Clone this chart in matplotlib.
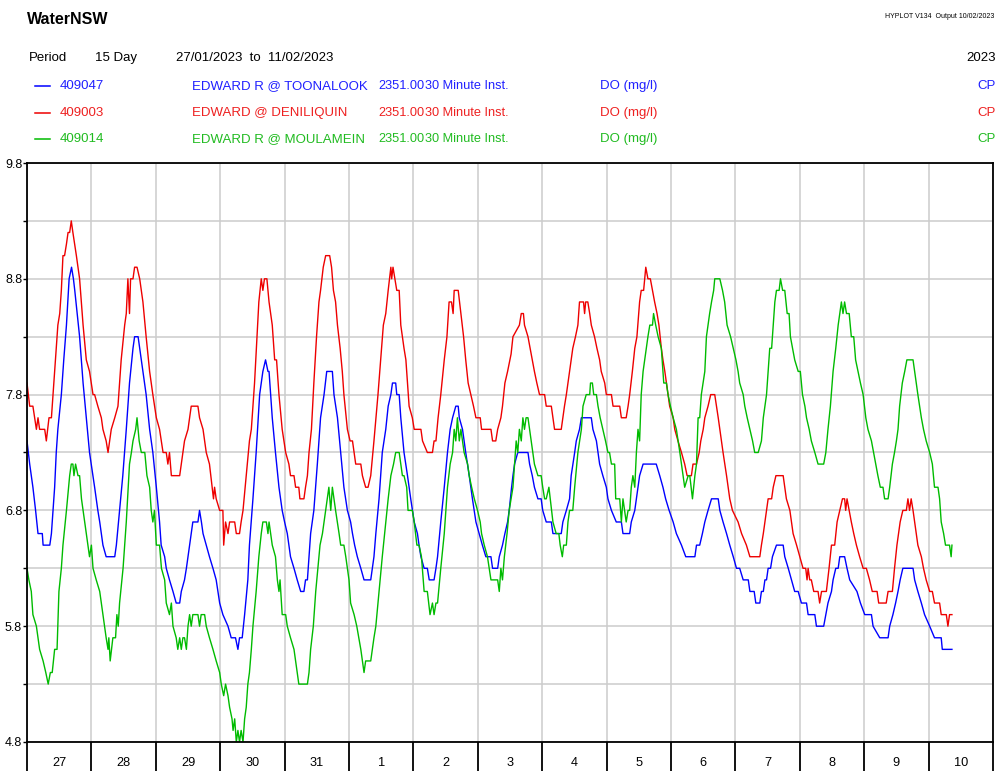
import matplotlib
matplotlib.use('Agg')
import matplotlib.pyplot as plt
from matplotlib.lines import Line2D
import numpy as np

plt.rcParams['font.family'] = ['Liberation Sans', 'DejaVu Sans']

# day labels along the bottom, 27/01/2023 to 11/02/2023
day_labels = ['27', '28', '29', '30', '31', '1', '2', '3', '4', '5', '6', '7', '8', '9', '10']

# (hours since 27/01/2023 00:00, DO mg/l)
toonalook = [
    (0, 7.4), (1.0, 7.2), (2.2, 7.0), (3.2, 6.8), (4.1, 6.6), (5.7, 6.6), (6.0, 6.5), (8.5, 6.5), (9.1, 6.6),
    (9.7, 6.8), (10.3, 7.0), (10.9, 7.3), (11.5, 7.5), (12.8, 7.8), (13.7, 8.1), (14.7, 8.4), (15.7, 8.8),
    (16.6, 8.9), (17.3, 8.8), (17.8, 8.7), (18.7, 8.5), (19.6, 8.3), (20.9, 7.9), (22.1, 7.6), (23.3, 7.3),
    (25.2, 7.0), (26.4, 6.8), (27.1, 6.7), (28.3, 6.5), (29.5, 6.4), (32.7, 6.4), (33.3, 6.5), (34.5, 6.8),
    (35.7, 7.1), (37.0, 7.5), (38.2, 7.9), (39.5, 8.2), (40.1, 8.3), (41.4, 8.3), (42.0, 8.2), (43.2, 8.0),
    (44.4, 7.8), (45.7, 7.5), (46.9, 7.3), (48.2, 7.0), (49.4, 6.7), (50.0, 6.5), (51.3, 6.4), (51.9, 6.3),
    (53.1, 6.2), (54.4, 6.1), (55.6, 6.0), (56.9, 6.0), (57.5, 6.1), (58.7, 6.2), (59.4, 6.3), (60.6, 6.5),
    (61.8, 6.7), (63.7, 6.7), (64.3, 6.8), (65.0, 6.7), (65.6, 6.6), (66.8, 6.5), (68.0, 6.4), (69.3, 6.3),
    (70.5, 6.2), (71.8, 6.0), (73.0, 5.9), (74.9, 5.8), (76.1, 5.7), (77.7, 5.7), (78.6, 5.6), (79.2, 5.7),
    (80.2, 5.7), (81.1, 5.9), (82.3, 6.2), (82.9, 6.5), (84.2, 6.9), (85.4, 7.3), (86.7, 7.8), (87.9, 8.0),
    (88.9, 8.1), (89.8, 8.0), (90.2, 8.0), (90.8, 7.8), (91.4, 7.6), (92.6, 7.3), (93.9, 7.0), (95.1, 6.8),
    (96.0, 6.7), (97.0, 6.6), (97.6, 6.5), (98.2, 6.4), (99.5, 6.3), (100.7, 6.2), (102.0, 6.1), (103.2, 6.1),
    (103.8, 6.2), (104.5, 6.2), (105.1, 6.4), (105.7, 6.6), (106.9, 6.8), (108.2, 7.2), (109.4, 7.6),
    (110.7, 7.8), (111.7, 8.0), (113.8, 8.0), (114.4, 7.8), (115.7, 7.6), (116.9, 7.3), (118.1, 7.0),
    (119.4, 6.8), (120.6, 6.7), (121.3, 6.6), (122.1, 6.5), (123.1, 6.4), (124.4, 6.3), (125.6, 6.2),
    (128.1, 6.2), (128.7, 6.3), (129.3, 6.4), (130.0, 6.6), (131.2, 6.9), (132.4, 7.3), (133.7, 7.5),
    (134.6, 7.7), (135.6, 7.8), (136.2, 7.9), (137.4, 7.9), (137.8, 7.8), (138.7, 7.8), (139.3, 7.6),
    (140.5, 7.3), (141.8, 7.1), (143.0, 6.9), (144.3, 6.7), (145.5, 6.6), (146.1, 6.5), (146.8, 6.4),
    (148.0, 6.3), (149.2, 6.3), (149.9, 6.2), (151.7, 6.2), (152.4, 6.3), (153.0, 6.4), (154.2, 6.7),
    (155.5, 7.0), (156.7, 7.3), (157.7, 7.5), (158.6, 7.6), (159.8, 7.7), (160.7, 7.7), (161.1, 7.6),
    (162.3, 7.5), (163.5, 7.3), (164.8, 7.1), (166.0, 6.9), (167.3, 6.7), (168.5, 6.6), (169.7, 6.5),
    (171.0, 6.4), (172.9, 6.4), (173.5, 6.3), (175.4, 6.3), (176.0, 6.4), (177.2, 6.5), (178.1, 6.6),
    (179.1, 6.7), (179.7, 6.8), (180.6, 7.0), (181.1, 7.1), (181.7, 7.2), (182.9, 7.3), (186.7, 7.3),
    (187.3, 7.2), (188.3, 7.1), (189.1, 7.0), (190.4, 6.9), (191.6, 6.9), (192.2, 6.8), (193.5, 6.7),
    (195.4, 6.7), (196.0, 6.6), (199.1, 6.6), (199.7, 6.7), (201.0, 6.8), (202.2, 6.9), (202.8, 7.1),
    (204.1, 7.3), (204.7, 7.4), (205.9, 7.5), (206.6, 7.6), (210.3, 7.6), (210.9, 7.5), (212.2, 7.4),
    (212.8, 7.3), (213.4, 7.2), (214.6, 7.1), (215.9, 7.0), (216.5, 6.9), (217.8, 6.8), (219.6, 6.7),
    (221.5, 6.7), (222.1, 6.6), (224.6, 6.6), (225.2, 6.7), (226.5, 6.8), (227.1, 6.9), (227.7, 7.0),
    (228.3, 7.1), (229.6, 7.2), (234.5, 7.2), (235.8, 7.1), (237.0, 7.0), (238.0, 6.9), (239.3, 6.8),
    (240.8, 6.7), (242.0, 6.6), (243.9, 6.5), (245.5, 6.4), (248.9, 6.4), (249.5, 6.5), (250.7, 6.5),
    (251.7, 6.6), (252.6, 6.7), (253.8, 6.8), (255.1, 6.9), (257.6, 6.9), (258.2, 6.8), (259.4, 6.7),
    (260.7, 6.6), (261.9, 6.5), (263.2, 6.4), (264.4, 6.3), (265.6, 6.3), (266.9, 6.2), (268.8, 6.2),
    (269.4, 6.1), (271.0, 6.1), (271.6, 6.0), (273.1, 6.0), (273.7, 6.1), (274.4, 6.1), (275.0, 6.2),
    (275.6, 6.2), (276.2, 6.3), (277.1, 6.3), (277.8, 6.4), (279.3, 6.5), (281.8, 6.5), (282.4, 6.4),
    (283.7, 6.3), (284.9, 6.2), (286.1, 6.1), (287.4, 6.1), (288.6, 6.0), (290.5, 6.0), (291.1, 5.9),
    (293.6, 5.9), (294.2, 5.8), (296.9, 5.8), (297.7, 5.9), (298.5, 6.0), (299.8, 6.1), (300.4, 6.2),
    (301.4, 6.3), (302.3, 6.3), (302.9, 6.4), (304.7, 6.4), (305.6, 6.3), (306.6, 6.2), (309.3, 6.1),
    (310.6, 6.0), (312.2, 5.9), (314.7, 5.9), (315.3, 5.8), (317.8, 5.7), (320.9, 5.7), (321.5, 5.8),
    (322.7, 5.9), (323.7, 6.0), (324.6, 6.1), (325.4, 6.2), (326.4, 6.3), (330.2, 6.3), (330.8, 6.2),
    (332.0, 6.1), (333.3, 6.0), (334.5, 5.9), (336.4, 5.8), (338.2, 5.7), (340.7, 5.7), (341.1, 5.6),
    (344.7, 5.6),
]

deniliquin = [
    (0, 7.9), (1.0, 7.7), (2.2, 7.7), (3.5, 7.5), (4.1, 7.6), (4.7, 7.5), (6.6, 7.5), (7.2, 7.4), (8.2, 7.6),
    (9.1, 7.6), (9.7, 7.8), (10.3, 8.0), (11.5, 8.4), (12.2, 8.5), (12.8, 8.7), (13.4, 9.0), (14.0, 9.0),
    (14.7, 9.1), (15.3, 9.2), (15.9, 9.2), (16.5, 9.3), (17.1, 9.2), (18.4, 9.0), (19.6, 8.8), (20.9, 8.4),
    (22.1, 8.1), (23.3, 8.0), (24.6, 7.8), (25.2, 7.8), (26.4, 7.7), (27.7, 7.6), (28.3, 7.5), (29.5, 7.4),
    (30.2, 7.3), (30.8, 7.4), (31.4, 7.5), (32.7, 7.6), (33.9, 7.7), (34.5, 7.9), (35.1, 8.1), (36.4, 8.4),
    (37.0, 8.5), (37.6, 8.8), (38.2, 8.5), (38.6, 8.8), (39.5, 8.8), (40.1, 8.9), (41.0, 8.9), (42.0, 8.8),
    (43.2, 8.6), (44.4, 8.3), (45.7, 8.0), (46.9, 7.8), (48.2, 7.6), (49.4, 7.5), (50.7, 7.3), (51.9, 7.3),
    (52.5, 7.2), (53.1, 7.3), (53.8, 7.1), (56.9, 7.1), (57.5, 7.2), (58.7, 7.4), (60.0, 7.5), (61.2, 7.7),
    (63.7, 7.7), (64.3, 7.6), (65.6, 7.5), (66.8, 7.3), (68.0, 7.2), (69.0, 7.0), (69.5, 6.9), (69.9, 7.0),
    (70.5, 6.9), (71.8, 6.8), (73.0, 6.8), (73.3, 6.5), (74.0, 6.7), (74.9, 6.6), (75.5, 6.7), (77.4, 6.7),
    (78.0, 6.6), (79.2, 6.6), (79.8, 6.7), (80.5, 6.8), (81.7, 7.1), (82.9, 7.4), (83.6, 7.5), (84.8, 7.9),
    (85.7, 8.3), (86.4, 8.6), (87.3, 8.8), (87.9, 8.7), (88.5, 8.8), (89.4, 8.8), (90.2, 8.6), (91.4, 8.4),
    (92.3, 8.1), (93.0, 8.1), (93.9, 7.8), (95.1, 7.5), (96.4, 7.3), (97.6, 7.2), (98.2, 7.1), (99.5, 7.1),
    (100.1, 7.0), (101.3, 7.0), (101.7, 6.9), (103.2, 6.9), (103.8, 7.0), (104.5, 7.1), (105.1, 7.3),
    (106.0, 7.5), (106.9, 7.9), (107.9, 8.3), (108.8, 8.6), (109.4, 8.7), (110.4, 8.9), (111.3, 9.0),
    (112.8, 9.0), (113.5, 8.9), (114.2, 8.7), (115.0, 8.6), (115.7, 8.4), (116.7, 8.2), (117.5, 8.0),
    (118.1, 7.8), (119.4, 7.5), (120.4, 7.4), (121.3, 7.4), (121.9, 7.3), (122.5, 7.2), (124.4, 7.2),
    (125.0, 7.1), (126.2, 7.0), (127.1, 7.0), (128.1, 7.1), (129.3, 7.4), (130.8, 7.8), (131.8, 8.1),
    (132.8, 8.4), (133.7, 8.5), (134.6, 8.7), (135.6, 8.9), (135.9, 8.8), (136.4, 8.9), (137.1, 8.8),
    (137.8, 8.7), (138.7, 8.7), (139.3, 8.4), (140.5, 8.2), (141.2, 8.1), (142.4, 7.7), (143.6, 7.6),
    (144.3, 7.5), (146.8, 7.5), (147.4, 7.4), (149.2, 7.3), (151.1, 7.3), (151.7, 7.4), (152.4, 7.4),
    (153.2, 7.6), (154.2, 7.8), (155.5, 8.1), (156.5, 8.3), (157.3, 8.6), (158.2, 8.6), (158.8, 8.5),
    (159.2, 8.7), (160.7, 8.7), (161.7, 8.5), (162.7, 8.3), (163.5, 8.1), (164.4, 7.9), (165.4, 7.8),
    (166.4, 7.7), (167.3, 7.6), (168.9, 7.6), (169.4, 7.5), (172.9, 7.5), (173.5, 7.4), (174.7, 7.4),
    (175.4, 7.5), (176.6, 7.6), (177.2, 7.7), (178.1, 7.9), (179.1, 8.0), (180.4, 8.15), (181.1, 8.3),
    (183.5, 8.4), (184.2, 8.5), (185.0, 8.5), (185.4, 8.4), (186.7, 8.3), (187.5, 8.2), (188.3, 8.1),
    (189.1, 8.0), (190.0, 7.9), (191.0, 7.8), (192.9, 7.8), (193.5, 7.7), (195.4, 7.7), (196.0, 7.6),
    (196.6, 7.5), (199.1, 7.5), (199.7, 7.6), (200.3, 7.7), (201.0, 7.8), (202.2, 8.0), (203.4, 8.2),
    (204.4, 8.3), (205.3, 8.4), (205.9, 8.6), (207.4, 8.6), (207.8, 8.5), (208.2, 8.6), (209.0, 8.6),
    (209.7, 8.5), (210.3, 8.4), (211.5, 8.3), (212.4, 8.2), (213.4, 8.1), (214.0, 8.0), (215.3, 7.9),
    (215.9, 7.8), (217.8, 7.8), (218.4, 7.7), (220.9, 7.7), (221.5, 7.6), (223.3, 7.6), (224.0, 7.7),
    (224.6, 7.8), (225.6, 8.0), (226.5, 8.2), (227.3, 8.3), (228.3, 8.6), (228.9, 8.7), (229.8, 8.7),
    (230.6, 8.9), (231.4, 8.8), (232.3, 8.8), (233.1, 8.7), (233.9, 8.6), (234.8, 8.5), (235.5, 8.4),
    (236.4, 8.2), (237.0, 8.1), (237.7, 8.0), (238.9, 7.8), (239.5, 7.7), (240.8, 7.6), (241.4, 7.5),
    (242.6, 7.4), (243.9, 7.3), (245.1, 7.2), (246.0, 7.1), (247.6, 7.1), (248.2, 7.2), (249.5, 7.2),
    (250.5, 7.3), (251.1, 7.4), (252.0, 7.5), (252.6, 7.6), (253.8, 7.7), (254.8, 7.8), (256.3, 7.8),
    (257.6, 7.6), (258.2, 7.5), (259.4, 7.3), (260.7, 7.1), (261.9, 6.9), (262.9, 6.8), (265.0, 6.7),
    (266.3, 6.6), (268.1, 6.5), (269.4, 6.4), (273.1, 6.4), (273.7, 6.5), (274.4, 6.6), (275.0, 6.7),
    (275.6, 6.8), (276.2, 6.9), (277.5, 6.9), (278.1, 7.0), (279.1, 7.1), (281.8, 7.1), (282.4, 7.0),
    (283.0, 6.9), (284.3, 6.8), (284.9, 6.7), (285.5, 6.6), (286.8, 6.5), (288.0, 6.4), (289.2, 6.3),
    (290.2, 6.3), (290.7, 6.2), (291.1, 6.3), (291.7, 6.2), (292.3, 6.2), (293.2, 6.1), (294.8, 6.1),
    (295.4, 6.0), (296.1, 6.1), (297.9, 6.1), (298.9, 6.3), (299.8, 6.5), (301.0, 6.5), (301.9, 6.7),
    (302.9, 6.8), (303.9, 6.9), (304.7, 6.9), (305.1, 6.8), (305.6, 6.9), (306.4, 6.8), (307.2, 6.7),
    (308.1, 6.6), (309.1, 6.5), (310.3, 6.4), (311.6, 6.3), (312.8, 6.3), (314.0, 6.2), (315.0, 6.1),
    (316.8, 6.1), (317.4, 6.0), (320.2, 6.0), (320.9, 6.1), (322.5, 6.1), (323.3, 6.3), (324.2, 6.5),
    (325.4, 6.7), (326.4, 6.8), (327.7, 6.8), (328.3, 6.9), (328.9, 6.8), (329.5, 6.9), (330.2, 6.8),
    (330.8, 6.7), (332.0, 6.5), (333.3, 6.4), (334.1, 6.3), (335.1, 6.2), (336.4, 6.1), (337.4, 6.1),
    (338.2, 6.0), (340.1, 6.0), (340.7, 5.9), (342.6, 5.9), (343.2, 5.8), (343.8, 5.9), (344.7, 5.9),
]

moulamein = [
    (0, 6.3), (0.7, 6.2), (1.6, 6.1), (2.2, 5.9), (3.5, 5.8), (4.7, 5.6), (6.0, 5.5), (7.0, 5.4), (7.9, 5.3),
    (8.7, 5.4), (9.4, 5.4), (10.3, 5.6), (11.2, 5.6), (11.9, 6.1), (12.8, 6.3), (13.4, 6.5), (14.7, 6.8),
    (15.9, 7.1), (16.5, 7.2), (17.1, 7.2), (17.5, 7.1), (18.1, 7.2), (19.0, 7.1), (19.6, 7.1), (20.3, 6.9),
    (21.5, 6.7), (22.1, 6.6), (23.3, 6.4), (24.0, 6.5), (24.6, 6.3), (25.8, 6.2), (27.1, 6.1), (28.3, 5.9),
    (29.5, 5.7), (30.2, 5.6), (30.5, 5.7), (31.0, 5.5), (32.0, 5.7), (33.0, 5.7), (33.5, 5.9), (34.0, 5.8),
    (34.5, 6.0), (35.8, 6.3), (37.0, 6.7), (38.2, 7.2), (38.9, 7.3), (39.5, 7.4), (40.5, 7.5), (41.0, 7.6),
    (41.8, 7.4), (42.6, 7.3), (43.9, 7.3), (44.7, 7.1), (45.7, 7.0), (46.3, 6.8), (46.9, 6.7), (47.5, 6.8),
    (48.2, 6.5), (49.4, 6.5), (50.1, 6.3), (51.3, 6.2), (51.9, 6.0), (53.1, 5.9), (53.8, 6.0), (54.4, 5.8),
    (55.6, 5.7), (56.2, 5.6), (56.9, 5.7), (57.5, 5.6), (58.1, 5.7), (58.7, 5.7), (59.4, 5.6), (60.0, 5.8),
    (60.6, 5.9), (61.2, 5.8), (61.8, 5.9), (63.7, 5.9), (64.3, 5.8), (64.9, 5.9), (66.2, 5.9), (66.8, 5.8),
    (68.0, 5.7), (69.3, 5.6), (70.5, 5.5), (71.8, 5.4), (72.4, 5.3), (73.3, 5.2), (74.0, 5.3), (74.9, 5.2),
    (75.5, 5.1), (76.4, 5.0), (76.8, 4.9), (77.4, 5.0), (78.0, 4.8), (78.6, 4.9), (79.2, 4.8), (79.8, 4.9),
    (80.5, 4.8), (81.1, 5.0), (81.7, 5.1), (82.3, 5.3), (82.9, 5.4), (83.6, 5.6), (84.2, 5.8), (85.4, 6.1),
    (86.4, 6.4), (87.3, 6.6), (87.9, 6.7), (89.2, 6.7), (89.8, 6.6), (90.2, 6.7), (90.8, 6.6), (91.4, 6.5),
    (92.6, 6.4), (93.3, 6.2), (93.9, 6.1), (94.3, 6.2), (95.1, 5.9), (96.4, 5.9), (97.0, 5.8), (98.2, 5.7),
    (99.5, 5.6), (100.1, 5.5), (100.7, 5.4), (101.3, 5.3), (104.5, 5.3), (105.1, 5.4), (105.7, 5.6),
    (106.7, 5.8), (107.6, 6.1), (108.4, 6.3), (109.2, 6.5), (110.1, 6.6), (110.7, 6.7), (111.3, 6.8),
    (111.9, 6.9), (112.5, 7.0), (113.2, 6.8), (113.8, 7.0), (114.4, 6.9), (115.0, 6.8), (116.3, 6.6),
    (116.9, 6.5), (118.1, 6.5), (118.8, 6.4), (120.0, 6.2), (120.6, 6.0), (121.9, 5.9), (122.9, 5.8),
    (124.4, 5.6), (125.6, 5.4), (126.2, 5.5), (128.1, 5.5), (128.7, 5.6), (129.3, 5.7), (130.0, 5.8),
    (131.2, 6.1), (132.4, 6.4), (133.7, 6.7), (134.6, 6.9), (135.6, 7.1), (136.6, 7.2), (137.4, 7.3),
    (138.7, 7.3), (139.3, 7.2), (139.9, 7.1), (140.5, 7.1), (141.5, 7.0), (142.0, 6.8), (143.6, 6.8),
    (144.3, 6.7), (145.3, 6.5), (146.1, 6.5), (147.0, 6.4), (148.0, 6.1), (149.2, 6.1), (150.2, 5.9),
    (151.1, 6.0), (151.7, 5.9), (152.4, 6.0), (153.0, 6.0), (154.2, 6.3), (155.5, 6.6), (156.7, 7.0),
    (157.7, 7.2), (158.6, 7.3), (159.2, 7.5), (159.8, 7.4), (160.4, 7.6), (161.1, 7.4), (161.7, 7.5),
    (162.3, 7.4), (162.9, 7.3), (164.2, 7.2), (164.8, 7.1), (165.7, 7.0), (166.7, 6.9), (167.9, 6.8),
    (168.9, 6.7), (169.4, 6.6), (170.4, 6.5), (171.6, 6.4), (172.9, 6.2), (175.4, 6.2), (176.0, 6.1),
    (176.6, 6.3), (177.2, 6.2), (177.9, 6.4), (178.9, 6.6), (179.7, 6.8), (180.4, 6.9), (181.1, 7.0),
    (181.7, 7.2), (182.3, 7.4), (182.9, 7.3), (183.5, 7.5), (184.2, 7.4), (184.8, 7.6), (185.4, 7.5),
    (186.0, 7.6), (186.7, 7.6), (187.3, 7.5), (187.9, 7.4), (188.5, 7.3), (189.1, 7.2), (190.4, 7.1),
    (191.6, 7.1), (192.2, 7.0), (192.9, 6.9), (193.5, 6.9), (194.5, 7.0), (195.0, 6.9), (196.0, 6.7),
    (197.2, 6.6), (198.2, 6.6), (198.7, 6.5), (199.5, 6.4), (200.0, 6.5), (201.0, 6.5), (201.6, 6.7),
    (202.2, 6.8), (203.4, 6.8), (204.1, 7.0), (205.3, 7.3), (206.6, 7.5), (207.2, 7.7), (208.4, 7.8),
    (209.7, 7.8), (210.0, 7.9), (210.7, 7.9), (211.2, 7.8), (212.2, 7.8), (212.8, 7.7), (213.6, 7.6),
    (214.6, 7.5), (215.6, 7.4), (216.5, 7.3), (217.1, 7.3), (217.8, 7.2), (219.0, 7.2), (219.4, 6.9),
    (220.9, 6.9), (221.5, 6.7), (222.1, 6.9), (222.7, 6.8), (223.3, 6.7), (224.0, 6.8), (224.6, 6.8),
    (225.2, 7.0), (225.8, 7.1), (226.5, 7.0), (227.1, 7.3), (227.7, 7.5), (228.3, 7.4), (228.9, 7.8),
    (229.6, 8.0), (230.8, 8.2), (231.4, 8.3), (232.1, 8.4), (233.1, 8.4), (233.5, 8.5), (234.3, 8.4),
    (235.2, 8.3), (236.4, 8.2), (237.3, 7.9), (238.3, 7.9), (238.9, 7.8), (239.8, 7.7), (240.8, 7.6),
    (242.0, 7.5), (243.3, 7.3), (243.9, 7.2), (245.1, 7.0), (246.4, 7.1), (247.0, 7.1), (248.0, 6.9),
    (248.9, 7.1), (249.5, 7.2), (250.1, 7.6), (250.7, 7.6), (251.3, 7.8), (252.6, 8.0), (253.2, 8.3),
    (254.4, 8.5), (255.1, 8.6), (255.9, 8.7), (256.3, 8.8), (258.2, 8.8), (259.2, 8.7), (260.0, 8.6),
    (260.9, 8.4), (262.2, 8.3), (263.2, 8.2), (264.2, 8.1), (265.0, 8.0), (265.6, 7.9), (266.9, 7.8),
    (267.5, 7.7), (268.4, 7.6), (269.4, 7.5), (270.4, 7.4), (271.2, 7.3), (272.5, 7.3), (273.7, 7.4),
    (274.4, 7.6), (275.0, 7.7), (275.6, 7.8), (276.2, 8.0), (276.8, 8.2), (277.5, 8.2), (278.1, 8.4),
    (278.7, 8.6), (279.3, 8.7), (280.3, 8.7), (280.8, 8.8), (281.6, 8.7), (282.4, 8.7), (283.3, 8.5),
    (284.0, 8.5), (284.5, 8.3), (285.3, 8.2), (286.1, 8.1), (287.4, 8.0), (288.2, 8.0), (289.0, 7.8),
    (289.9, 7.7), (290.5, 7.6), (291.5, 7.5), (292.3, 7.4), (293.6, 7.3), (294.8, 7.2), (296.9, 7.2),
    (297.7, 7.3), (298.5, 7.5), (299.4, 7.7), (300.4, 8.0), (301.4, 8.2), (302.3, 8.4), (303.5, 8.6),
    (304.1, 8.5), (304.7, 8.6), (305.4, 8.5), (306.4, 8.5), (307.2, 8.3), (308.1, 8.3), (308.8, 8.1),
    (309.7, 8.0), (310.6, 7.9), (311.6, 7.8), (312.6, 7.6), (313.4, 7.5), (314.7, 7.4), (315.5, 7.3),
    (316.3, 7.2), (317.1, 7.1), (318.0, 7.0), (319.0, 7.0), (319.6, 6.9), (320.9, 6.9), (321.5, 7.0),
    (322.5, 7.2), (323.3, 7.3), (324.0, 7.4), (324.6, 7.5), (325.2, 7.7), (326.2, 7.9), (327.1, 8.0),
    (327.9, 8.1), (330.2, 8.1), (330.8, 8.0), (331.4, 7.9), (332.0, 7.8), (333.3, 7.6), (334.1, 7.5),
    (335.1, 7.4), (336.4, 7.3), (337.4, 7.2), (338.2, 7.0), (339.5, 7.0), (340.1, 6.9), (340.7, 6.7),
    (341.6, 6.6), (342.3, 6.5), (343.8, 6.5), (344.4, 6.4), (344.7, 6.5),
]

stations = ['409047', '409003', '409014']
names = ['EDWARD R @ TOONALOOK', 'EDWARD @ DENILIQUIN', 'EDWARD R @ MOULAMEIN']
line_colors = ['#0000ff', '#ee0000', '#00bb00']
text_colors = ['#2020ff', '#ee2020', '#20bb20']

W, H = 997, 771
fig = plt.figure(figsize=(W / 100, H / 100), dpi=100)
ax = fig.add_axes([27 / W, 1 - 742 / H, (993 - 27) / W, (742 - 163) / H])

for series, col in zip([toonalook, deniliquin, moulamein], line_colors):
    hrs, do = np.array(series).T
    ax.plot(hrs / 24, do, color=col, lw=1.0)

ax.set_xlim(0, 15)
ax.set_ylim(4.8, 9.8)

# day boundaries as long ticks, day names in between
ax.set_xticks(np.arange(16))
ax.set_xticklabels([])
ax.set_xticks(np.arange(15) + 0.5, minor=True)
ax.set_xticklabels(day_labels, minor=True)
ax.tick_params(axis='x', which='major', length=21, width=1.3, color='black')
ax.tick_params(axis='x', which='minor', length=0, pad=10.5, labelsize=9.2)

ax.set_yticks(np.arange(4.8, 9.81, 1.0))
ax.set_yticklabels(['%.1f' % v for v in np.arange(4.8, 9.81, 1.0)])
ax.set_yticks(np.arange(5.3, 9.4, 1.0), minor=True)
ax.tick_params(axis='y', which='both', length=3, width=1, pad=0.5, labelsize=9)

ax.grid(which='major', axis='x', color='#cccccc', lw=1.1)
ax.grid(which='both', axis='y', color='#cccccc', lw=1.1)
ax.set_axisbelow(True)
for sp in ax.spines.values():
    sp.set_linewidth(1.3)
    sp.set_color('black')


def ftext(x, y, s, **kw):
    fig.text(x / W, 1 - y / H, s, va='center', **kw)


fs = 9.5
ftext(27, 19, 'WaterNSW', fontsize=11.5, fontweight='bold')
ftext(994, 16, 'HYPLOT V134  Output 10/02/2023', fontsize=5, ha='right')
ftext(29, 58, 'Period', fontsize=fs)
ftext(95, 58, '15 Day', fontsize=fs)
ftext(176, 58, '27/01/2023  to  11/02/2023', fontsize=fs)
ftext(996, 58, '2023', fontsize=fs, ha='right')

for i in range(3):
    y = 86 + i * 26.7
    fig.add_artist(Line2D([35 / W, 50 / W], [1 - y / H] * 2, color=line_colors[i], lw=1.1))
    ftext(60, y, stations[i], fontsize=fs, color=text_colors[i])
    ftext(192, y, names[i], fontsize=fs, color=text_colors[i])
    ftext(378, y, '2351.00', fontsize=9.2, color=text_colors[i])
    ftext(425, y, '30 Minute Inst.', fontsize=9.2, color=text_colors[i])
    ftext(600, y, 'DO (mg/l)', fontsize=fs, color=text_colors[i])
    ftext(996, y, 'CP', fontsize=fs, color=text_colors[i], ha='right')

fig.savefig('out.png', dpi=100)
